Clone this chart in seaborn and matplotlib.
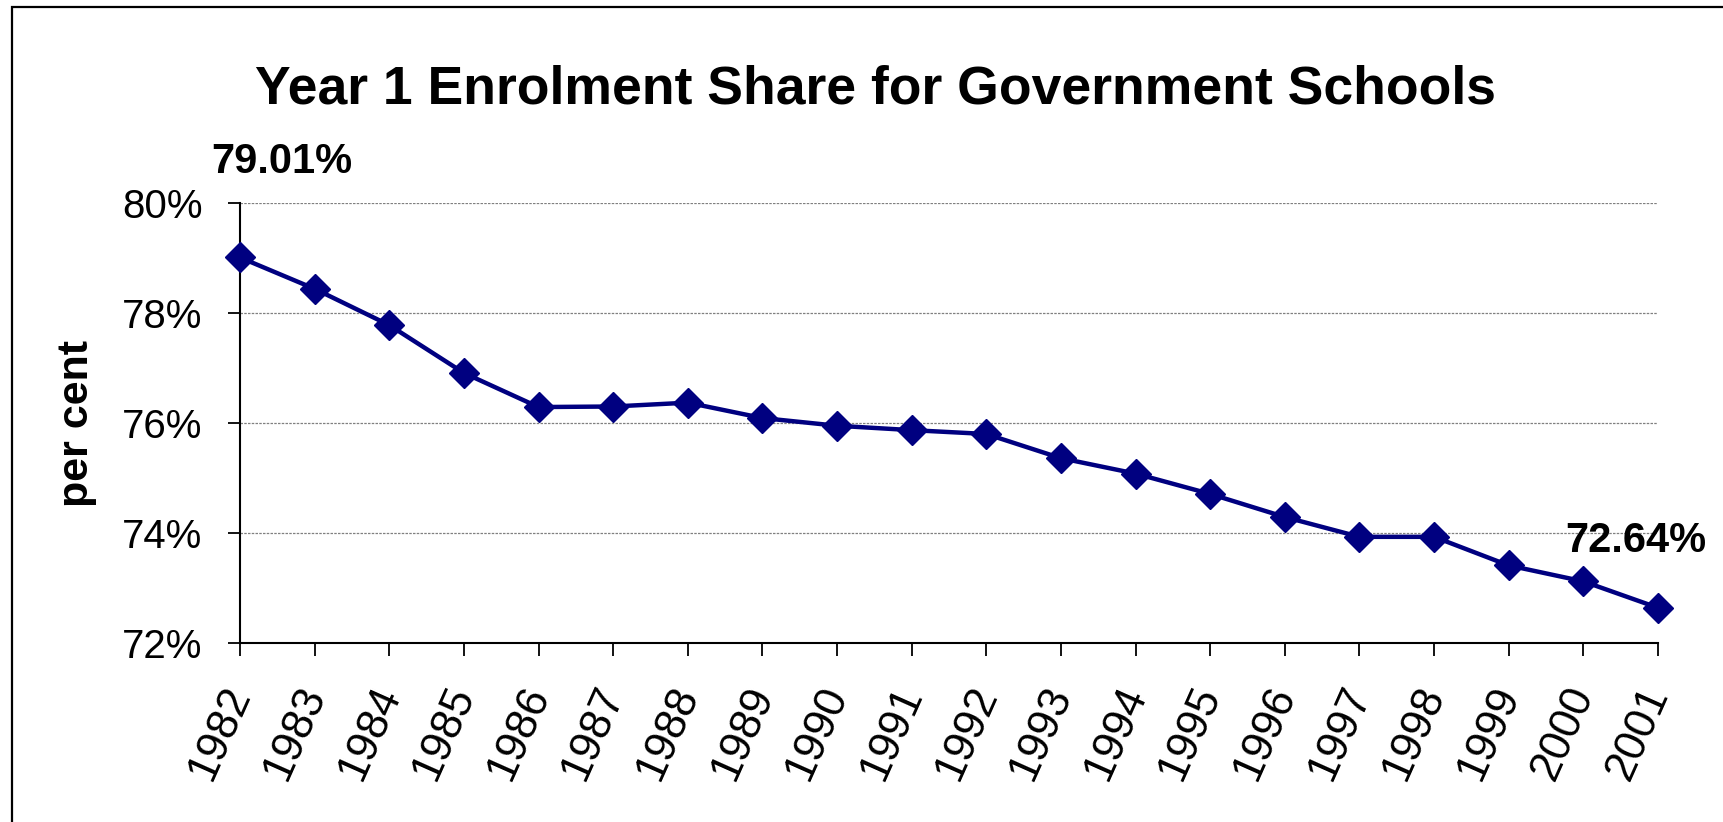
import numpy as np
import pandas as pd
import seaborn as sns
import matplotlib.pyplot as plt
import matplotlib.ticker as ticker
import matplotlib.transforms as mtransforms
from matplotlib.patches import Rectangle

years = [1982, 1983, 1984, 1985, 1986, 1987, 1988, 1989, 1990, 1991,
         1992, 1993, 1994, 1995, 1996, 1997, 1998, 1999, 2000, 2001]
share = [79.01, 78.44, 77.78, 76.91, 76.29, 76.30, 76.37, 76.09, 75.95, 75.87,
         75.80, 75.36, 75.08, 74.71, 74.29, 73.93, 73.93, 73.41, 73.12, 72.64]
yticks = [72, 74, 76, 78, 80]
title = "Year 1 Enrolment Share for Government Schools"

df = pd.DataFrame({"year": years, "share": share})

sns.set_theme(style="white")
plt.rcParams['font.family'] = ['Liberation Sans', 'DejaVu Sans']
plt.rcParams['text.color'] = 'black'
plt.rcParams['xtick.color'] = 'black'
plt.rcParams['ytick.color'] = 'black'
plt.rcParams['axes.labelcolor'] = 'black'

fig = plt.figure(figsize=(17.24, 8.22), dpi=100)
ax = fig.add_axes([0.1392, 0.2178, 0.8225, 0.5352])

sns.lineplot(data=df, x="year", y="share", ax=ax, color="#000080",
             linewidth=3.2, marker="D", markersize=15,
             markeredgecolor="#000080", markeredgewidth=1, clip_on=False,
             zorder=5)

ax.set_xlim(years[0], years[-1])
ax.set_ylim(yticks[0], yticks[-1])
ax.set_yticks(yticks)
ax.yaxis.set_major_formatter(ticker.FuncFormatter(lambda v, p: f"{v:.0f}%"))
ax.set_xticks(years)
ax.set_xticklabels([str(y) for y in years], rotation=66, ha="right",
                   rotation_mode="anchor", va="center")
shift = mtransforms.ScaledTranslation(-15 / 100, 0, fig.dpi_scale_trans)
for lbl in ax.get_xticklabels():
    lbl.set_transform(lbl.get_transform() + shift)

ax.grid(axis="y", color="#808080", linestyle=(0, (2, 1)), linewidth=0.9)
ax.grid(axis="x", visible=False)
ax.set_axisbelow(True)

for s in ["top", "right"]:
    ax.spines[s].set_visible(False)
for s in ["left", "bottom"]:
    ax.spines[s].set_color("black")
    ax.spines[s].set_linewidth(1.5)

ax.tick_params(axis="y", direction="out", length=9, width=1.3,
               labelsize=29, pad=18, left=True)
ax.tick_params(axis="x", direction="out", length=9.5, width=1.3,
               labelsize=31.5, pad=23, bottom=True)

ax.set_xlabel("")
ax.set_ylabel("per cent", fontsize=31, fontweight="bold", labelpad=18)

# end-point labels
ax.annotate(f"{share[0]:.2f}%", xy=(years[0], share[0]), xytext=(-29, 84),
            textcoords="offset pixels", fontsize=30, fontweight="bold",
            ha="left", va="baseline")
ax.annotate(f"{share[-1]:.2f}%", xy=(years[-1], share[-1]), xytext=(-93, 56),
            textcoords="offset pixels", fontsize=30, fontweight="bold",
            ha="left", va="baseline")

fig.text(0.5079, 1 - 103 / 822, title, fontsize=38.5, fontweight="bold",
         ha="center", va="baseline")

# chart area border (only top and left edges are inside the image)
fig.add_artist(Rectangle((12 / 1724, -0.1), 1.2, 1.1 + (1 - 7 / 822) - 1,
                         transform=fig.transFigure, fill=False,
                         edgecolor="black", linewidth=1.6))

fig.savefig("out.png", dpi=100)
